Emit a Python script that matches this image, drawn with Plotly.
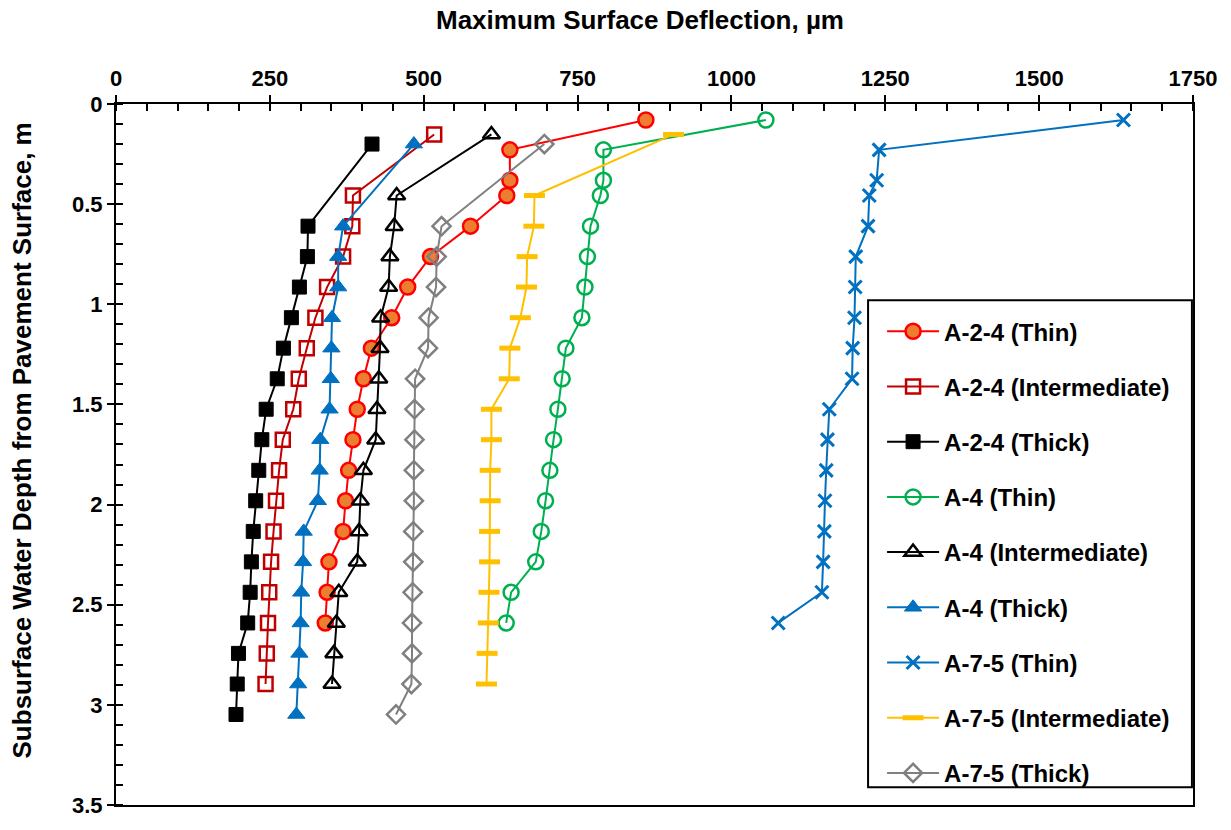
import plotly.graph_objects as go

# Depths (m) for each series and the matching maximum surface deflections (µm)
a24_thin_depth = [0.08, 0.229, 0.381, 0.457, 0.61, 0.762, 0.914, 1.067, 1.219, 1.372,
                  1.524, 1.676, 1.829, 1.981, 2.134, 2.286, 2.438, 2.591]
a24_thin_defl = [861, 640, 640, 635, 576, 511, 474, 448, 415, 402,
                 392, 385, 378, 373, 369, 346, 343, 340]

a24_int_depth = [0.152, 0.457, 0.61, 0.762, 0.914, 1.067, 1.219, 1.372, 1.524, 1.676,
                 1.829, 1.981, 2.134, 2.286, 2.438, 2.591, 2.743, 2.896]
a24_int_defl = [517, 385, 384, 369, 343, 324, 310, 297, 288, 271,
                265, 260, 256, 252, 249, 247, 245, 243]

a24_thick_depth = [0.2, 0.61, 0.762, 0.914, 1.067, 1.219, 1.372, 1.524, 1.676, 1.829,
                   1.981, 2.134, 2.286, 2.438, 2.591, 2.743, 2.896, 3.048]
a24_thick_defl = [416, 312, 311, 298, 285, 272, 262, 244, 237, 232,
                  227, 223, 220, 218, 214, 199, 197, 195]

a4_thin_depth = [0.08, 0.229, 0.381, 0.457, 0.61, 0.762, 0.914, 1.067, 1.219, 1.372,
                 1.524, 1.676, 1.829, 1.981, 2.134, 2.286, 2.438, 2.591]
a4_thin_defl = [1056, 792, 792, 787, 771, 766, 762, 757, 731, 725,
                718, 711, 705, 698, 691, 682, 642, 634]

a4_int_depth = [0.152, 0.457, 0.61, 0.762, 0.914, 1.067, 1.219, 1.372, 1.524, 1.676,
                1.829, 1.981, 2.134, 2.286, 2.438, 2.591, 2.743, 2.896]
a4_int_defl = [610, 456, 452, 445, 443, 430, 429, 427, 424, 422,
               402, 397, 395, 392, 362, 358, 354, 351]

a4_thick_depth = [0.2, 0.61, 0.762, 0.914, 1.067, 1.219, 1.372, 1.524, 1.676, 1.829,
                  1.981, 2.134, 2.286, 2.438, 2.591, 2.743, 2.896, 3.048]
a4_thick_defl = [484, 369, 361, 361, 351, 350, 349, 347, 332, 331,
                 328, 305, 304, 301, 300, 298, 296, 293]

a75_thin_depth = [0.08, 0.229, 0.381, 0.457, 0.61, 0.762, 0.914, 1.067, 1.219, 1.372,
                  1.524, 1.676, 1.829, 1.981, 2.134, 2.286, 2.438, 2.591]
a75_thin_defl = [1637, 1240, 1236, 1224, 1222, 1202, 1201, 1200, 1197, 1196,
                 1159, 1156, 1154, 1152, 1151, 1149, 1147, 1076]

a75_int_depth = [0.152, 0.457, 0.61, 0.762, 0.914, 1.067, 1.219, 1.372, 1.524, 1.676,
                 1.829, 1.981, 2.134, 2.286, 2.438, 2.591, 2.743, 2.896]
a75_int_defl = [906, 680, 679, 668, 667, 657, 640, 639, 610, 610,
                608, 608, 607, 607, 606, 605, 603, 602]

a75_thick_depth = [0.2, 0.61, 0.762, 0.914, 1.067, 1.219, 1.372, 1.524, 1.676, 1.829,
                   1.981, 2.134, 2.286, 2.438, 2.591, 2.743, 2.896, 3.048]
a75_thick_defl = [696, 529, 521, 520, 508, 507, 486, 485, 485, 484,
                  484, 483, 483, 482, 481, 481, 480, 455]

x_ticks = [0, 250, 500, 750, 1000, 1250, 1500, 1750]
y_ticks = [0, 0.5, 1, 1.5, 2, 2.5, 3, 3.5]
y_tick_text = ["0", "0.5", "1", "1.5", "2", "2.5", "3", "3.5"]

x_title = "Maximum Surface Deflection, µm"
y_title = "Subsurface Water Depth from Pavement Surface, m"

FONT = "Liberation Sans, Arial, sans-serif"

series = [
    ("A-2-4 (Thin)", a24_thin_defl, a24_thin_depth,
     dict(color="#FF0000", width=2),
     dict(symbol="circle", size=15, color="#ED7D31", line=dict(color="#FF0000", width=2.5))),
    ("A-2-4 (Intermediate)", a24_int_defl, a24_int_depth,
     dict(color="#C00000", width=2),
     dict(symbol="square-open", size=14, color="#C00000", line=dict(color="#C00000", width=2.5))),
    ("A-2-4 (Thick)", a24_thick_defl, a24_thick_depth,
     dict(color="#000000", width=2),
     dict(symbol="square", size=14, color="#000000", line=dict(color="#000000", width=1))),
    ("A-4 (Thin)", a4_thin_defl, a4_thin_depth,
     dict(color="#00B050", width=2),
     dict(symbol="circle-open", size=15, color="#00B050", line=dict(color="#00B050", width=2.5))),
    ("A-4 (Intermediate)", a4_int_defl, a4_int_depth,
     dict(color="#000000", width=2),
     dict(symbol="triangle-up-open", size=15, color="#000000", line=dict(color="#000000", width=2.5))),
    ("A-4 (Thick)", a4_thick_defl, a4_thick_depth,
     dict(color="#0070C0", width=2),
     dict(symbol="triangle-up", size=15, color="#0070C0", line=dict(color="#0070C0", width=1))),
    ("A-7-5 (Thin)", a75_thin_defl, a75_thin_depth,
     dict(color="#0070C0", width=2),
     dict(symbol="x-thin-open", size=13, color="#0070C0", line=dict(color="#0070C0", width=3))),
    ("A-7-5 (Intermediate)", a75_int_defl, a75_int_depth,
     dict(color="#FFC000", width=2),
     dict(symbol="line-ew-open", size=15, color="#FFC000", line=dict(color="#FFC000", width=5))),
    ("A-7-5 (Thick)", a75_thick_defl, a75_thick_depth,
     dict(color="#808080", width=2),
     dict(symbol="diamond-open", size=14, color="#808080", line=dict(color="#808080", width=2.5))),
]

fig = go.Figure()
for i, (name, xs, ys, line, marker) in enumerate(series):
    fig.add_trace(go.Scatter(
        x=xs, y=ys, name=name, mode="lines+markers",
        line=line, marker=marker, legendgroup=f"g{i}",
    ))

title_font = dict(family=FONT, size=26, color="black", weight="bold")

fig.update_layout(
    width=1231, height=830,
    margin=dict(l=116, r=38, t=104, b=12),
    paper_bgcolor="white", plot_bgcolor="white",
    font=dict(family=FONT, size=20, color="black"),
    showlegend=True,
    legend=dict(
        x=0.7113, y=0.7073, xanchor="left", yanchor="top",
        bgcolor="rgba(0,0,0,0)", borderwidth=0,
        font=dict(family=FONT, size=24, color="black", weight="bold"),
        tracegroupgap=21, itemwidth=52,
    ),
    shapes=[
        # frame around the legend
        dict(type="rect", xref="paper", yref="paper",
             x0=0.6983, x1=0.999, y0=0.0252, y1=0.7199,
             line=dict(color="black", width=2), fillcolor="white", layer="above"),
    ],
    annotations=[
        dict(text=x_title, xref="paper", yref="paper", x=0.4865, y=1,
             yshift=84, xanchor="center", yanchor="middle", showarrow=False,
             font=title_font),
        dict(text=y_title, xref="paper", yref="paper", x=0, y=0.52,
             xshift=-94, xanchor="center", yanchor="middle", showarrow=False,
             textangle=-90, font=title_font),
    ],
)

fig.update_xaxes(
    side="top", range=[0, 1750], tickvals=x_ticks,
    showgrid=False, zeroline=False,
    showline=True, linecolor="black", linewidth=2, mirror=True,
    ticks="outside", ticklen=7, tickwidth=2, tickcolor="black",
    minor=dict(dtick=50, ticks="inside", ticklen=7, tickwidth=2, tickcolor="black"),
    tickfont=dict(family=FONT, size=22, color="black", weight="bold"),
)

fig.update_yaxes(
    range=[3.5, 0], tickvals=y_ticks, ticktext=y_tick_text,
    showgrid=False, zeroline=False,
    showline=True, linecolor="black", linewidth=2, mirror=True,
    ticks="outside", ticklen=7, tickwidth=2, tickcolor="black",
    minor=dict(dtick=0.1, ticks="inside", ticklen=7, tickwidth=2, tickcolor="black"),
    tickfont=dict(family=FONT, size=22, color="black", weight="bold"),
)

fig.write_html("out.html")
